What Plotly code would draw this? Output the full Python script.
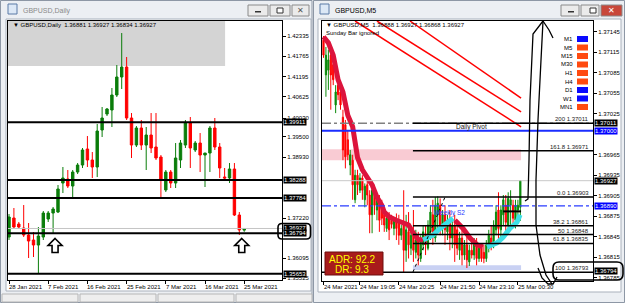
import plotly.graph_objects as go

W, H = 625, 303
FONT = "Liberation Sans"

# ---------------- Daily chart (left) ----------------
d_tick_idx = [0, 8, 16, 24, 32, 40, 48]
d_tick_text = ["28 Jan 2021", "7 Feb 2021", "16 Feb 2021", "25 Feb 2021",
               "7 Mar 2021", "16 Mar 2021", "25 Mar 2021"]
d_open = [1.36687, 1.37221, 1.37052, 1.36940, 1.36743, 1.36603, 1.36462, 1.36687, 1.37193, 1.37361,
          1.37389, 1.38204, 1.38317, 1.38120, 1.38513, 1.38710, 1.39160, 1.38851, 1.38654, 1.39694,
          1.40143, 1.40256, 1.40677, 1.41183, 1.41464, 1.40031, 1.39272, 1.39750, 1.39272, 1.39553,
          1.39216, 1.38935, 1.38008, 1.38513, 1.38204, 1.38851, 1.39272, 1.39890, 1.39132, 1.39328,
          1.38991, 1.39047, 1.39750, 1.39216, 1.38373, 1.38345, 1.38598, 1.37305, 1.36881]
d_high = [1.37333, 1.37502, 1.37109, 1.37586, 1.37080, 1.36827, 1.36968, 1.37418, 1.37418, 1.37530,
          1.38148, 1.38654, 1.38570, 1.38570, 1.38766, 1.39188, 1.39525, 1.39075, 1.39862, 1.40340,
          1.40312, 1.40874, 1.41520, 1.42419, 1.41745, 1.40171, 1.39806, 1.39975, 1.39778, 1.40171,
          1.40171, 1.38991, 1.38570, 1.38570, 1.39328, 1.39413, 1.39975, 1.40059, 1.39385, 1.39609,
          1.39047, 1.39806, 1.40031, 1.39328, 1.38626, 1.38766, 1.38766, 1.37389, 1.36927]
d_low = [1.36603, 1.36912, 1.36912, 1.36687, 1.36097, 1.36125, 1.35675, 1.36603, 1.37109, 1.36799,
         1.37361, 1.37923, 1.38064, 1.37783, 1.38457, 1.38626, 1.38654, 1.38345, 1.38373, 1.39497,
         1.40087, 1.39778, 1.40621, 1.40846, 1.39975, 1.38907, 1.39216, 1.39132, 1.38570, 1.39047,
         1.38851, 1.37783, 1.37951, 1.38064, 1.38064, 1.38626, 1.39188, 1.38626, 1.39075, 1.38513,
         1.38092, 1.38513, 1.39132, 1.38345, 1.38289, 1.38204, 1.37277, 1.36743, 1.36834]
d_close = [1.37249, 1.36968, 1.36968, 1.36743, 1.36575, 1.36462, 1.36715, 1.37361, 1.37361, 1.37474,
           1.38036, 1.38345, 1.38120, 1.38513, 1.38710, 1.39132, 1.38851, 1.38654, 1.39665, 1.40031,
           1.40284, 1.40677, 1.41183, 1.41464, 1.40031, 1.39272, 1.39750, 1.39272, 1.39553, 1.39188,
           1.38907, 1.38289, 1.38513, 1.38204, 1.38907, 1.39328, 1.39890, 1.39188, 1.39328, 1.38991,
           1.39047, 1.39750, 1.39216, 1.38626, 1.38345, 1.38598, 1.37305, 1.36884, 1.36927]
d_price_ticks = [1.42335, 1.41765, 1.41195, 1.40625, 1.40030, 1.39500, 1.38930, 1.37220, 1.36095, 1.35525]
d_levels = [1.39911, 1.38288, 1.37784, 1.36794, 1.35653]
d_level_boxes = [1.39911, 1.38288, 1.37784, 1.36927, 1.36794, 1.35653]
d_last = 1.36927
d_zone = [1.41492, 44.1]          # grey zone: lower price, right bar
d_arrow_bars = [9.4, 47.5]        # hollow arrows under these bars

# ---------------- M5 chart (right) ----------------
m_tick_idx = [0, 15, 31, 48, 64, 80]
m_tick_text = ["24 Mar 2021", "24 Mar 19:05", "24 Mar 20:25", "24 Mar 21:50",
               "24 Mar 23:10", "25 Mar 00:30"]
m_open = [1.37133, 1.37082, 1.37089, 1.37111, 1.37097, 1.37038, 1.37067, 1.37057, 1.37020, 1.37009,
          1.36987, 1.36950, 1.36957, 1.36899, 1.36935, 1.36913, 1.36931, 1.36899, 1.36921, 1.36906,
          1.36877, 1.36913, 1.36884, 1.36899, 1.36891, 1.36877, 1.36857, 1.36872, 1.36869, 1.36857,
          1.36869, 1.36866, 1.36847, 1.36862, 1.36825, 1.36852, 1.36828, 1.36847, 1.36822, 1.36840,
          1.36813, 1.36833, 1.36847, 1.36828, 1.36852, 1.36877, 1.36843, 1.36877, 1.36891, 1.36857,
          1.36877, 1.36852, 1.36866, 1.36843, 1.36862, 1.36855, 1.36825, 1.36843, 1.36818, 1.36833,
          1.36808, 1.36825, 1.36818, 1.36837, 1.36813, 1.36828, 1.36822, 1.36813, 1.36828, 1.36843,
          1.36833, 1.36855, 1.36884, 1.36855, 1.36877, 1.36891, 1.36862, 1.36891, 1.36891, 1.36869,
          1.36884, 1.36888]
m_high = [1.37139, 1.37123, 1.37119, 1.37116, 1.37104, 1.37067, 1.37075, 1.37063, 1.37031, 1.37016,
          1.37001, 1.36972, 1.36965, 1.36943, 1.36943, 1.36938, 1.36935, 1.36923, 1.36928, 1.36913,
          1.36928, 1.36921, 1.36906, 1.36906, 1.36899, 1.36881, 1.36877, 1.36881, 1.36877, 1.36872,
          1.36879, 1.36877, 1.36862, 1.36913, 1.36877, 1.36881, 1.36857, 1.36884, 1.36855, 1.36852,
          1.36847, 1.36862, 1.36862, 1.36869, 1.36891, 1.36899, 1.36903, 1.36904, 1.36901, 1.36884,
          1.36891, 1.36877, 1.36884, 1.36869, 1.36877, 1.36866, 1.36852, 1.36857, 1.36840, 1.36847,
          1.36833, 1.36840, 1.36843, 1.36843, 1.36833, 1.36835, 1.36833, 1.36840, 1.36855, 1.36862,
          1.36869, 1.36891, 1.36910, 1.36891, 1.36906, 1.36906, 1.36910, 1.36913, 1.36899, 1.36899,
          1.36899, 1.36927]
m_low = [1.37107, 1.37050, 1.37060, 1.37031, 1.37067, 1.37026, 1.37045, 1.37031, 1.36957, 1.36945,
         1.36957, 1.36935, 1.36899, 1.36894, 1.36906, 1.36909, 1.36899, 1.36888, 1.36891, 1.36850,
         1.36850, 1.36877, 1.36869, 1.36852, 1.36862, 1.36852, 1.36852, 1.36840, 1.36857, 1.36847,
         1.36840, 1.36833, 1.36840, 1.36793, 1.36808, 1.36813, 1.36818, 1.36808, 1.36813, 1.36803,
         1.36808, 1.36825, 1.36818, 1.36825, 1.36840, 1.36833, 1.36837, 1.36852, 1.36847, 1.36847,
         1.36833, 1.36840, 1.36825, 1.36828, 1.36808, 1.36818, 1.36811, 1.36803, 1.36811, 1.36799,
         1.36802, 1.36813, 1.36811, 1.36803, 1.36808, 1.36808, 1.36806, 1.36808, 1.36822, 1.36825,
         1.36828, 1.36847, 1.36840, 1.36843, 1.36862, 1.36847, 1.36855, 1.36857, 1.36862, 1.36857,
         1.36866, 1.36868]
m_close = [1.37111, 1.37111, 1.37104, 1.37082, 1.37075, 1.37057, 1.37053, 1.37038, 1.36972, 1.36962,
           1.36965, 1.36965, 1.36921, 1.36935, 1.36921, 1.36931, 1.36913, 1.36919, 1.36906, 1.36877,
           1.36913, 1.36891, 1.36899, 1.36869, 1.36872, 1.36862, 1.36872, 1.36855, 1.36863, 1.36869,
           1.36857, 1.36847, 1.36857, 1.36825, 1.36855, 1.36833, 1.36847, 1.36825, 1.36840, 1.36818,
           1.36840, 1.36852, 1.36833, 1.36862, 1.36881, 1.36847, 1.36891, 1.36894, 1.36862, 1.36877,
           1.36855, 1.36869, 1.36843, 1.36862, 1.36833, 1.36828, 1.36843, 1.36818, 1.36833, 1.36811,
           1.36825, 1.36818, 1.36837, 1.36813, 1.36828, 1.36813, 1.36813, 1.36833, 1.36847, 1.36833,
           1.36862, 1.36881, 1.36857, 1.36884, 1.36899, 1.36866, 1.36901, 1.36899, 1.36872, 1.36891,
           1.36891, 1.36927]
m_price_ticks = [1.37145, 1.37115, 1.37085, 1.37055, 1.37025, 1.36965, 1.36935,
                 1.36905, 1.36875, 1.36845, 1.36815, 1.36785]

# trend indicator (thick blocks)
tr_down1_x = [0, 2, 4, 5, 6, 8, 9, 10, 12, 13, 14, 16, 18, 20, 22, 24, 25, 27, 30, 32, 35, 37, 39, 41]
tr_down1_y = [1.37138, 1.37129, 1.37111, 1.37089, 1.37075, 1.37057, 1.37038, 1.37023, 1.37006, 1.36976,
              1.36961, 1.36943, 1.36931, 1.36921, 1.36903, 1.36891, 1.36881, 1.36874, 1.36869, 1.36866,
              1.36862, 1.36850, 1.36841, 1.36840]
tr_up1_x = [41, 45, 48, 52, 53.3]
tr_up1_y = [1.36840, 1.36847, 1.36857, 1.36869, 1.36872]
tr_down2_x = [54.1, 57.4, 60.3, 63.2, 65.6]
tr_down2_y = [1.36869, 1.36857, 1.36843, 1.36833, 1.36830]
tr_up2_x = [67.3, 71.4, 73.9, 76.7, 79.6, 80.9]
tr_up2_y = [1.36830, 1.36836, 1.36844, 1.36857, 1.36866, 1.36877]

# downward channel lines
ch_x = [[13, 81.3], [22, 81.3], [35.6, 81.3]]
ch_y = [[1.37161, 1.37006], [1.37161, 1.37028], [1.37161, 1.37048]]

fib_names = ["200", "161.8", "0.0", "38.2", "50", "61.8", "100"]
fib_prices = [1.37011, 1.36971, 1.36903, 1.36861, 1.36848, 1.36835, 1.36793]
fib_start, fib_end = 36.8, 81.3
fib_swing_x = [36.8, 50.0]
fib_swing_y = [1.36793, 1.36903]
daily_pivot = 1.37000
weekly_s2 = 1.36890
m_last = 1.36927
pink_zone = [1.36957, 1.36973]
blue_zone = [1.36796, 1.36803]
mini_line = [73.9, 81.3, 1.36882]
m_boxes = [(1.37011, "#000000"), (1.37000, "#0000ff"), (1.36927, "#000000"),
           (1.36890, "#0000ff"), (1.36794, "#000000")]
tf_names = ["M1", "M5", "M15", "M30", "H1", "H4", "D1", "W1", "MN1"]
tf_up = [True, False, False, False, False, False, True, True, False]
adr_value, dr_value = 92.2, 9.3

# ---------------- helpers ----------------
def px(x):
    return x / W


def py(y):
    return 1 - y / H


def P(x, y):
    return f"{px(x):.5f},{py(y):.5f}"


def poly(points, close=False):
    s = "M" + " L".join(P(x, y) for x, y in points)
    return s + (" Z" if close else "")


def rrect(x0, y0, x1, y1, r):
    return (f"M{P(x0 + r, y0)} L{P(x1 - r, y0)} Q{P(x1, y0)} {P(x1, y0 + r)} "
            f"L{P(x1, y1 - r)} Q{P(x1, y1)} {P(x1 - r, y1)} L{P(x0 + r, y1)} "
            f"Q{P(x0, y1)} {P(x0, y1 - r)} L{P(x0, y0 + r)} Q{P(x0, y0)} {P(x0 + r, y0)} Z")


def prect(x0, y0, x1, y1, fill, line=None, lw=1, layer="below"):
    return dict(type="rect", xref="paper", yref="paper", x0=px(x0), x1=px(x1),
                y0=py(y1), y1=py(y0), fillcolor=fill, layer=layer,
                line=dict(color=line or fill, width=lw if line else 0))


shapes, ann = [], []

# window chrome
shapes += [
    prect(0.5, 0.5, 312, 302.5, "#eceff3", "#8d97a5"),
    prect(313.5, 0.5, 624.5, 302.5, "#eceff3", "#8d97a5"),
    prect(6, 19, 311, 291, "#ffffff", "#a9b1bc"),
    prect(318, 19, 621, 292, "#ffffff", "#a9b1bc"),
    prect(8, 4, 17, 14, "#dce8f6", "#5b7ba6"),
    prect(320, 4, 329, 14, "#dce8f6", "#5b7ba6"),
]
for (a, b, col) in [(248, 268, "#ebebeb"), (270, 290, "#ebebeb"), (292, 309, "#ebebeb"),
                    (561, 579, "#ebebeb"), (581, 599, "#ebebeb"), (601, 622, "#c8473a")]:
    shapes.append(prect(a, 5, b, 16, col, "#8a8a8a", 1, "above"))
for (a, col) in [(248, "#333333"), (561, "#333333")]:
    shapes.append(prect(a + 7, 11, a + 13, 12.5, col, None, 0, "above"))
    shapes.append(prect(a + 29, 8, a + 35, 13, "#ffffff", col, 1, "above"))
ann += [dict(text="✕", x=px(300.5), y=py(10.5), font=dict(size=8, color="#555555")),
        dict(text="✕", x=px(611.5), y=py(10.5), font=dict(size=8, color="#ffffff")),
        dict(text="GBPUSD,Daily", x=px(21), y=py(10.5), xanchor="left",
             font=dict(size=7, color="#8a8a8a")),
        dict(text="GBPUSD,M5", x=px(333), y=py(10.5), xanchor="left",
             font=dict(size=7, color="#000000"))]
for k in range(4):
    shapes.append(prect(2 + k * 78, 294, 2 + k * 78 + 76, 302, "#eeeeee", "#b5b5b5", 1, "above"))

# ---------------- left chart decorations ----------------
shapes.append(dict(type="rect", xref="x", yref="y", x0=-0.3, x1=d_zone[1], y0=d_zone[0],
                   y1=1.4276, fillcolor="#d4d4d4", line=dict(width=0), layer="below"))
shapes.append(dict(type="line", xref="x domain", yref="y", x0=0, x1=1, y0=d_last, y1=d_last,
                   line=dict(color="#c4c4c4", width=1)))
for lv in d_levels:
    shapes.append(dict(type="line", xref="x domain", yref="y", x0=0, x1=1, y0=lv, y1=lv,
                       line=dict(color="#000000", width=2)))
for cx_bar in d_arrow_bars:
    cx = 9 + 4.9 * cx_bar
    ty = 238.5
    pts = [(cx, ty), (cx + 7, ty + 7), (cx + 3, ty + 7), (cx + 3, ty + 14), (cx - 3, ty + 14),
           (cx - 3, ty + 7), (cx - 7, ty + 7)]
    shapes.append(dict(type="path", xref="paper", yref="paper", path=poly(pts, True),
                       fillcolor="#ffffff", line=dict(color="#000000", width=1.6)))
for v in d_level_boxes:
    ann.append(dict(text=f"{v:.5f}", xref="paper", yref="y", x=px(283), y=v, xanchor="left",
                    bgcolor="#000000", borderpad=0, font=dict(size=6, color="#ffffff")))
shapes.append(dict(type="path", xref="paper", yref="paper", path=rrect(278, 223.5, 310.5, 239, 4),
                   line=dict(color="#000000", width=1.6)))
ann.append(dict(text="▼ GBPUSD,Daily  1.36881 1.36927 1.36834 1.36927", x=px(11), y=py(25),
                xanchor="left", font=dict(size=6, color="#000000")))
for i, t in zip(d_tick_idx, d_tick_text):
    ann.append(dict(text=t, xref="x", yref="paper", x=i, y=py(286.5), xanchor="left", xshift=-2,
                    font=dict(size=6, color="#000000")))

# ---------------- right chart decorations ----------------
shapes.append(dict(type="rect", xref="x2", yref="y2", x0=-0.7, x1=fib_end, y0=pink_zone[0],
                   y1=pink_zone[1], fillcolor="#f9cbd3", line=dict(width=0), layer="below"))
shapes.append(dict(type="rect", xref="x2", yref="y2", x0=fib_start, x1=fib_end, y0=blue_zone[0],
                   y1=blue_zone[1], fillcolor="#c9d1f3", line=dict(width=0), layer="below"))
shapes.append(dict(type="line", xref="x2 domain", yref="y2", x0=0, x1=1, y0=m_last, y1=m_last,
                   line=dict(color="#c8c8c8", width=1)))
shapes.append(dict(type="line", xref="x2 domain", yref="y2", x0=0, x1=1, y0=fib_prices[0],
                   y1=fib_prices[0], line=dict(color="#808080", width=1.5, dash="dashdot")))
shapes.append(dict(type="line", xref="x2 domain", yref="y2", x0=0, x1=1, y0=daily_pivot,
                   y1=daily_pivot, line=dict(color="#1a2dff", width=2)))
shapes.append(dict(type="line", xref="x2 domain", yref="y2", x0=0, x1=1, y0=weekly_s2,
                   y1=weekly_s2, line=dict(color="#2a3cff", width=1.2, dash="dashdot")))
for name, v in zip(fib_names, fib_prices):
    if name == "100":
        shapes.append(dict(type="line", xref="x2 domain", yref="y2", x0=0, x1=1, y0=v, y1=v,
                           line=dict(color="#000000", width=1.5)))
    else:
        shapes.append(dict(type="line", xref="x2", yref="y2", x0=fib_start, x1=112, y0=v, y1=v,
                           line=dict(color="#000000", width=1.5)))
    ann.append(dict(text=f"{name} {v:.5f}", xref="paper", yref="y2", x=px(591), y=v,
                    xanchor="right", yanchor="bottom", yshift=-1,
                    font=dict(size=6, color="#222222")))
shapes.append(dict(type="line", xref="x2", yref="y2", x0=mini_line[0], x1=mini_line[1],
                   y0=mini_line[2], y1=mini_line[2], line=dict(color="#000000", width=2)))
ann.append(dict(text="Daily Pivot", xref="x2", yref="y2", x=61.1, y=daily_pivot,
                yanchor="bottom", yshift=-2, font=dict(size=6.5, color="#202020")))
ann.append(dict(text="Weekly S2", xref="x2", yref="y2", x=44.5, y=weekly_s2, xanchor="left",
                yanchor="top", yshift=-1, font=dict(size=6.5, color="#2a3cff")))
for v, col in m_boxes:
    ann.append(dict(text=f"{v:.5f}", xref="paper", yref="y2", x=px(594), y=v, xanchor="left",
                    bgcolor=col, borderpad=0, font=dict(size=6, color="#ffffff")))
ann.append(dict(text="▼ GBPUSD,M5  1.36888 1.36927 1.36868 1.36927", x=px(324), y=py(25),
                xanchor="left", font=dict(size=6, color="#000000")))
ann.append(dict(text="Sunday Bar ignored", x=px(324), y=py(33), xanchor="left",
                font=dict(size=6, color="#000000")))
for k, (nm, up) in enumerate(zip(tf_names, tf_up)):
    yy = 39 + 8.5 * k
    ann.append(dict(text=nm, x=px(575), y=py(yy), xanchor="right",
                    font=dict(size=6, color="#000000")))
    shapes.append(prect(577, yy - 3, 588, yy + 3, "#0a0aff" if up else "#ff4a10", None, 0, "above"))
for i, t in zip(m_tick_idx, m_tick_text):
    ann.append(dict(text=t, xref="x2", yref="paper", x=i, y=py(287), xanchor="left", xshift=-2,
                    font=dict(size=6, color="#000000")))
# ADR box
shapes.append(prect(325, 252, 383, 275, "#a81b1b", "#6e0f0f", 1, "above"))
ann.append(dict(text=f"ADR: {adr_value}", x=px(327), y=py(259.5), xanchor="left",
                font=dict(size=10, color="#ffff00")))
ann.append(dict(text=f"DR: {dr_value}", x=px(333), y=py(269.5), xanchor="left",
                font=dict(size=10, color="#ffff00")))
# hand drawn arrow + rounded box
for pts in [
    [(543, 21), (533, 34), (530, 100), (529, 160), (528, 199), (525, 201)],
    [(543, 21), (541, 60), (538, 120), (536, 180), (536, 225), (540, 255), (546, 275), (552, 284)],
    [(543, 21), (549, 30), (553, 38)],
    [(538, 268), (542, 278), (548, 284), (553, 284), (557, 277)],
]:
    shapes.append(dict(type="path", xref="paper", yref="paper", path=poly(pts),
                       line=dict(color="#000000", width=1.3)))
shapes.append(dict(type="path", xref="paper", yref="paper", path=rrect(553, 262, 623, 280, 6),
                   line=dict(color="#000000", width=1.6)))

# ---------------- traces ----------------
fig = go.Figure()
fig.add_trace(go.Candlestick(
    x=list(range(len(d_open))), open=d_open, high=d_high, low=d_low, close=d_close,
    xaxis="x", yaxis="y", whiskerwidth=0,
    increasing=dict(line=dict(color="#0a7d0a", width=1), fillcolor="#0a7d0a"),
    decreasing=dict(line=dict(color="#ff0000", width=1), fillcolor="#ff0000"),
    hoverinfo="skip"))
fig.add_trace(go.Candlestick(
    x=list(range(len(m_open))), open=m_open, high=m_high, low=m_low, close=m_close,
    xaxis="x2", yaxis="y2", whiskerwidth=0,
    increasing=dict(line=dict(color="#0a8a0a", width=1), fillcolor="#0a8a0a"),
    decreasing=dict(line=dict(color="#ff0000", width=1), fillcolor="#ff0000"),
    hoverinfo="skip"))
for xs, ys, col in [(tr_down1_x, tr_down1_y, "#dc143c"), (tr_up1_x, tr_up1_y, "#3ee0e6"),
                    (tr_down2_x, tr_down2_y, "#dc143c"), (tr_up2_x, tr_up2_y, "#3ee0e6")]:
    fig.add_trace(go.Scatter(x=xs, y=ys, mode="lines", xaxis="x2", yaxis="y2",
                             line=dict(color=col, width=5), hoverinfo="skip"))
for xs, ys in zip(ch_x, ch_y):
    fig.add_trace(go.Scatter(x=xs, y=ys, mode="lines", xaxis="x2", yaxis="y2",
                             line=dict(color="#ff0000", width=1.5), hoverinfo="skip"))
fig.add_trace(go.Scatter(x=fib_swing_x, y=fib_swing_y, mode="lines", xaxis="x2", yaxis="y2",
                         line=dict(color="#000000", width=1, dash="dot"), hoverinfo="skip"))

axis_common = dict(showgrid=False, zeroline=False, showline=True, mirror=True, linecolor="#000000",
                   linewidth=1, ticks="outside", ticklen=3, tickcolor="#000000", fixedrange=True)
fig.update_layout(
    width=W, height=H, margin=dict(l=0, r=0, t=0, b=0),
    paper_bgcolor="#eceff3", plot_bgcolor="#ffffff",
    font=dict(family=FONT, size=6, color="#000000"),
    showlegend=False, hovermode=False,
    xaxis=dict(domain=[px(8), px(282)], range=[-0.204, 55.71], anchor="y",
               tickvals=d_tick_idx, showticklabels=False, rangeslider=dict(visible=False),
               **axis_common),
    yaxis=dict(domain=[py(280), py(21)], range=[1.35479, 1.42757], anchor="x", side="right",
               tickvals=d_price_ticks, ticktext=[f"{v:.5f}" for v in d_price_ticks],
               tickfont=dict(size=6, family=FONT), **axis_common),
    xaxis2=dict(domain=[px(322), px(593)], range=[-0.617, 110.9], anchor="y2",
                tickvals=m_tick_idx, showticklabels=False, rangeslider=dict(visible=False),
                **axis_common),
    yaxis2=dict(domain=[py(281), py(21)], range=[1.36780, 1.37161], anchor="x2", side="right",
                tickvals=m_price_ticks, ticktext=[f"{v:.5f}" for v in m_price_ticks],
                tickfont=dict(size=6, family=FONT), **axis_common),
    shapes=shapes,
)
for a in ann:
    a.setdefault("xref", "paper")
    a.setdefault("yref", "paper")
    a.setdefault("showarrow", False)
    a.setdefault("yanchor", "middle")
    a.setdefault("xanchor", "center")
fig.update_layout(annotations=ann)
fig.write_html("out.html")
